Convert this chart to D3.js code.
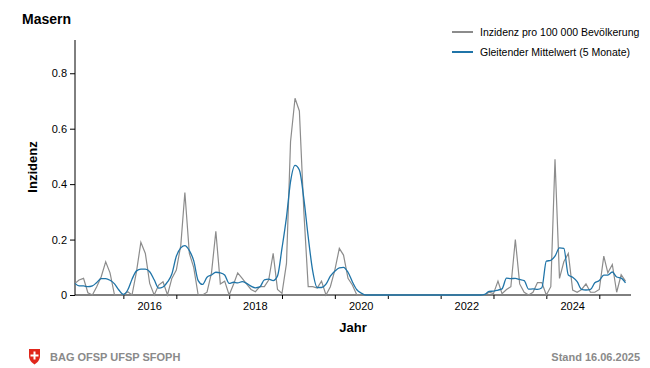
<!DOCTYPE html>
<html><head><meta charset="utf-8">
<script src="https://cdn.jsdelivr.net/npm/d3@7"></script>
<style>
body{margin:0;background:#fff;}
svg{display:block;font-family:"Liberation Sans",Arial,sans-serif;}
</style></head>
<body>
<svg id="chart" width="650" height="368"></svg>
<script>
// Monthly data, Feb 2015 .. Jul 2025
const startMonth = new Date(2015, 1, 1);
const incidence = [
  0.042,0.054,0.06,0.008,0,0.03,0.066,0.12,0.08,0,0,
  0,0.012,0,0.085,0.19,0.15,0.042,0,0.036,0.048,0,0.06,
  0.09,0.18,0.37,0.15,0.1,0,0,0.01,0.08,0.23,0.04,0.05,
  0,0.04,0.08,0.06,0.04,0.02,0.012,0.03,0.03,0.054,0.15,0.02,
  0.006,0.114,0.553,0.71,0.664,0.3,0.03,0.03,0.025,0.05,0,0.03,
  0.09,0.168,0.144,0.06,0.036,0,0,0,0,0,0,0,
  0,0,0,0,0,0,0,0,0,0,0,0,
  0,0,0,0,0,0,0,0,0,0,0,0.01,
  0.005,0.05,0.005,0.02,0.03,0.2,0.04,0.01,0,0.01,0.045,0.045,
  0,0.03,0.49,0.06,0.12,0.15,0.018,0.01,0.02,0.04,0.01,0.01,
  0.02,0.14,0.08,0.11,0.01,0.073,0.05
];
const movingAvg = [
  0.042,0.033,0.033,0.030,0.033,0.045,0.059,0.059,0.053,0.04,0.018,
  0.002,0.019,0.057,0.087,0.093,0.093,0.084,0.055,0.025,0.029,0.047,0.076,
  0.14,0.17,0.178,0.16,0.124,0.052,0.038,0.064,0.072,0.082,0.08,0.072,
  0.042,0.046,0.044,0.048,0.042,0.032,0.026,0.029,0.055,0.057,0.052,0.069,
  0.169,0.281,0.409,0.468,0.451,0.347,0.21,0.087,0.027,0.027,0.039,0.068,
  0.086,0.098,0.1,0.082,0.048,0.019,0.007,0,0,0,0,0,
  0,0,0,0,0,0,0,0,0,0,0,0,
  0,0,0,0,0,0,0,0,0,0,0.002,0.013,
  0.014,0.018,0.022,0.061,0.059,0.06,0.056,0.052,0.021,0.022,0.02,0.026,
  0.122,0.125,0.14,0.17,0.168,0.072,0.064,0.048,0.02,0.018,0.02,0.044,
  0.052,0.072,0.072,0.083,0.065,0.061,0.044
];
const yTicks = [0, 0.2, 0.4, 0.6, 0.8];
const yearLabels = [2016, 2018, 2020, 2022, 2024];
const legendLabels = ["Inzidenz pro 100 000 Bevölkerung", "Gleitender Mittelwert (5 Monate)"];
const title = "Masern";

const months = incidence.map((_, i) => d3.timeMonth.offset(startMonth, i));

const svg = d3.select("#chart");
const grayC = "#8c8c8c", blueC = "#1f74a8";

const x = d3.scaleTime().domain([startMonth, new Date(2025, 7, 8)]).range([75, 631]);
const y = d3.scaleLinear().domain([0, 0.92]).range([295, 40]);

// title
svg.append("text").attr("x", 22).attr("y", 24).attr("font-size", 14).attr("font-weight", "bold").text(title);

// y axis
const yAx = svg.append("g").attr("transform", "translate(75,0)")
  .call(d3.axisLeft(y).tickValues(yTicks).tickSize(5).tickPadding(3).tickFormat(d => d === 0 ? "0" : d3.format(".1f")(d)));
yAx.select(".domain").attr("d", `M0,${y.range()[1]}V${y(0)}`);
yAx.selectAll("text").attr("font-size", 11).attr("font-family", "Liberation Sans, Arial");

// x axis
const xAx = svg.append("g").attr("transform", "translate(0,295)")
  .call(d3.axisBottom(x).ticks(d3.timeYear.every(1)).tickSize(4).tickFormat(""));
xAx.select(".domain").attr("d", `M${x.range()[0]},0H${x.range()[1]}`);
xAx.selectAll(".yl").data(yearLabels).enter().append("text")
  .attr("x", d => x(new Date(d, 6, 1))).attr("y", 15)
  .attr("text-anchor", "middle").attr("font-size", 11).attr("fill", "#000").text(d => d);

// axis titles
svg.append("text").attr("transform", "translate(37,167) rotate(-90)").attr("text-anchor", "middle")
  .attr("font-size", 13).attr("font-weight", "bold").text("Inzidenz");
svg.append("text").attr("x", 353).attr("y", 332).attr("text-anchor", "middle")
  .attr("font-size", 13).attr("font-weight", "bold").text("Jahr");

// lines
const lineG = d3.line().x((d, i) => x(months[i])).y(d => y(d));
const lineB = d3.line().x((d, i) => x(months[i])).y(d => y(d)).curve(d3.curveMonotoneX);
svg.append("path").datum(incidence).attr("d", lineG).attr("fill", "none").attr("stroke", grayC).attr("stroke-width", 1.2);
svg.append("path").datum(movingAvg).attr("d", lineB).attr("fill", "none").attr("stroke", blueC).attr("stroke-width", 1.3);

// legend
const leg = svg.append("g");
[grayC, blueC].forEach((c, i) => {
  const yy = 32 + i * 20;
  leg.append("line").attr("x1", 452).attr("x2", 473).attr("y1", yy).attr("y2", yy).attr("stroke", c).attr("stroke-width", 2);
  leg.append("text").attr("x", 480).attr("y", yy + 4).attr("font-size", 10.5).text(legendLabels[i]);
});

// footer
const shield = svg.append("g").attr("transform", "translate(29,349)");
shield.append("path").attr("d", "M0,0H11V7C11,11 8,14 5.5,15.5C3,14 0,11 0,7Z").attr("fill", "#e0261b");
shield.append("rect").attr("x", 4.5).attr("y", 2.5).attr("width", 2).attr("height", 8).attr("fill", "#fff");
shield.append("rect").attr("x", 1.5).attr("y", 5.5).attr("width", 8).attr("height", 2).attr("fill", "#fff");
svg.append("text").attr("x", 50).attr("y", 361).attr("font-size", 11).attr("font-weight", "bold").attr("fill", "#8a8a8a").text("BAG OFSP UFSP SFOPH");
svg.append("text").attr("x", 640).attr("y", 361).attr("text-anchor", "end").attr("font-size", 11).attr("font-weight", "bold").attr("fill", "#8a8a8a").text("Stand 16.06.2025");
</script>
</body></html>
